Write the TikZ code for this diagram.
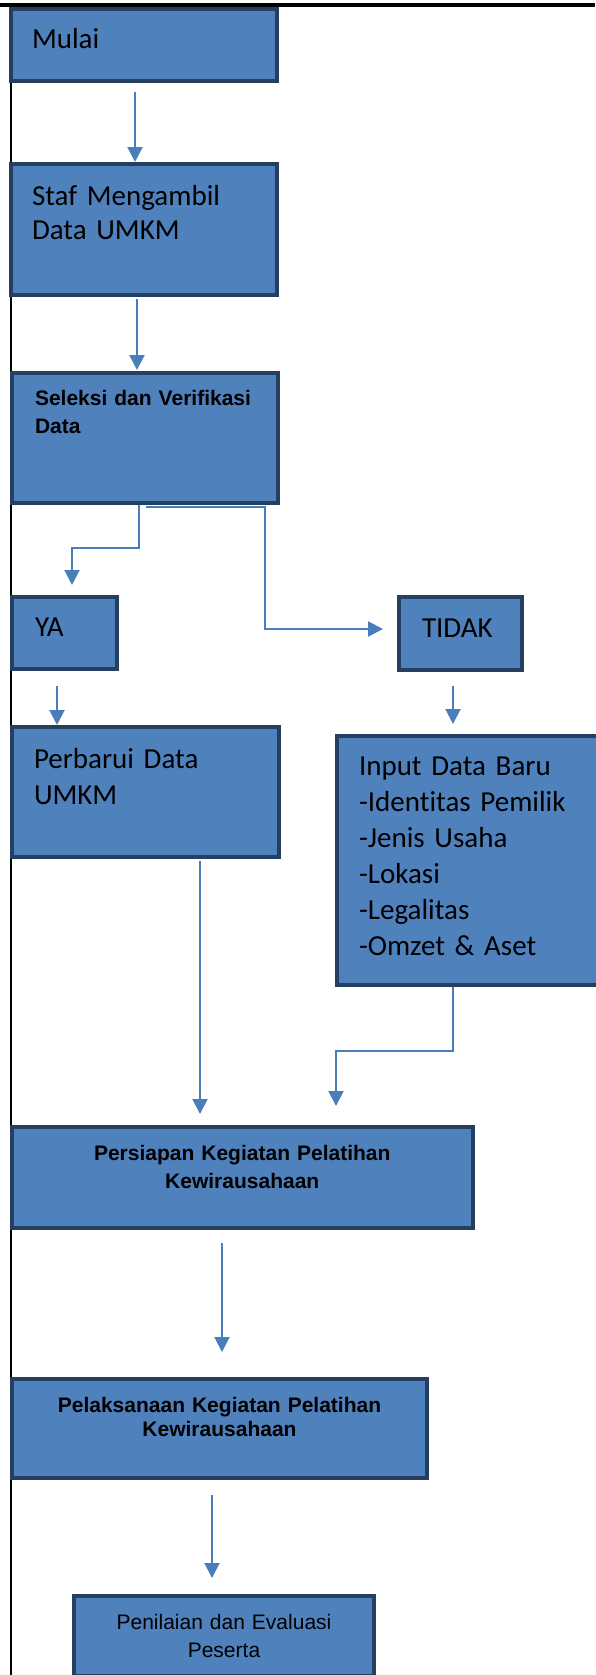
\documentclass[tikz,border=0pt]{standalone}
\usepackage{fontspec}
\setmainfont{Carlito}[Ligatures=NoCommon, WordSpace=0.7]
\newfontfamily\arial{Liberation Sans}
\usetikzlibrary{arrows.meta}
\definecolor{isi}{HTML}{4F81BD}
\definecolor{garis}{HTML}{243F60}
\definecolor{biru}{HTML}{4A7EBB}

\begin{document}
\begin{tikzpicture}[x=1pt, y=-1pt, ->, >={Triangle[width=15pt,length=15pt]}]
\tikzstyle{kotak} = [draw=garis, line width=4pt, fill=isi, text=black, anchor=north west, inner ysep=0pt, align=left, font=\fontsize{29}{36}\selectfont]
\tikzstyle{tebal} = [kotak, align=center, font=\arial\bfseries\fontsize{21}{28}\selectfont]
\tikzstyle{alur} = [draw=biru, line width=2pt]

\useasboundingbox (0,0) rectangle (595,1675);
\draw [-, line width=3.3pt] (0,5) -- (595,5);
\draw [-, line width=2pt] (11,5) -- (11,1675);

\node [kotak, inner xsep=21pt, text width=224pt, text height=40pt, text depth=32pt] (mulai) at (9,7) {Mulai};

\node [kotak, inner xsep=21pt, text width=224pt, text height=41pt, text depth=90pt, font=\fontsize{29}{34}\selectfont] (staf) at (9,162) {Staf Mengambil\\Data UMKM};
\draw [alur, shorten <=9pt] (mulai.south -| 135,0) -- (staf.north -| 135,0);

\node [kotak, inner xsep=23pt, text width=220pt, text height=32pt, text depth=98pt, font=\arial\bfseries\fontsize{21}{28}\selectfont] (seleksi) at (10,371) {Seleksi dan Verifikasi\\Data};
\draw [alur, shorten <=2pt, shorten >=1pt] (staf.south -| 137,0) -- (seleksi.north -| 137,0);

\node [kotak, inner xsep=23pt, text width=59pt, text height=39pt, text depth=33pt] (ya) at (10,595) {YA};
\draw [alur, shorten >=10pt] (seleksi.south -| 139,0) -- ++(0,43) -| (ya.north -| 72,0);

\node [kotak, inner xsep=23pt, text width=77pt, text height=40pt, text depth=33pt] (tidak) at (397,595) {TIDAK};
\draw [alur, shorten >=14pt] (seleksi.south -| 146,0) ++(0,2) -- ++(119,0) |- ([yshift=4.5pt]tidak.west);

\node [kotak, inner xsep=22pt, text width=223pt, text height=41pt, text depth=89pt] (perbarui) at (10,725) {Perbarui Data\\UMKM};
\draw [alur, shorten <=15pt] (ya.south -| 57,0) -- (perbarui.north -| 57,0);

\node [kotak, inner xsep=22pt, text width=226pt, text height=39pt, text depth=210pt] (input) at (335,734) {Input Data Baru\\-Identitas Pemilik\\-Jenis Usaha\\-Lokasi\\-Legalitas\\-Omzet \& Aset};
\draw [alur, shorten <=14pt, shorten >=10pt] (tidak.south -| 453,0) -- (input.north -| 453,0);

\node [tebal, inner xsep=10pt, text width=441.5pt, text height=33pt, text depth=68pt] (persiapan) at (9.5,1125) {Persiapan Kegiatan Pelatihan\\Kewirausahaan};
\draw [alur, shorten <=2pt, shorten >=11pt] (perbarui.south -| 200,0) -- (persiapan.north -| 200,0);
\draw [alur, shorten >=19pt] (input.south -| 453,0) -- ++(0,64) -| (persiapan.north -| 336,0);

\node [tebal, inner xsep=10pt, text width=395pt, text height=33pt, text depth=66pt, font=\arial\bfseries\fontsize{21}{24}\selectfont] (pelaksanaan) at (10,1377) {Pelaksanaan Kegiatan Pelatihan\\Kewirausahaan};
\draw [alur, shorten <=13pt, shorten >=25pt] (persiapan.south -| 222,0) -- (pelaksanaan.north -| 222,0);

\node [tebal, inner xsep=10pt, text width=280pt, text height=33pt, text depth=47pt, font=\arial\fontsize{21}{28}\selectfont] (penilaian) at (72,1594) {Penilaian dan Evaluasi\\Peserta};
\draw [alur, shorten <=15pt, shorten >=16pt] (pelaksanaan.south -| 212,0) -- (penilaian.north -| 212,0);

\end{tikzpicture}
\end{document}
